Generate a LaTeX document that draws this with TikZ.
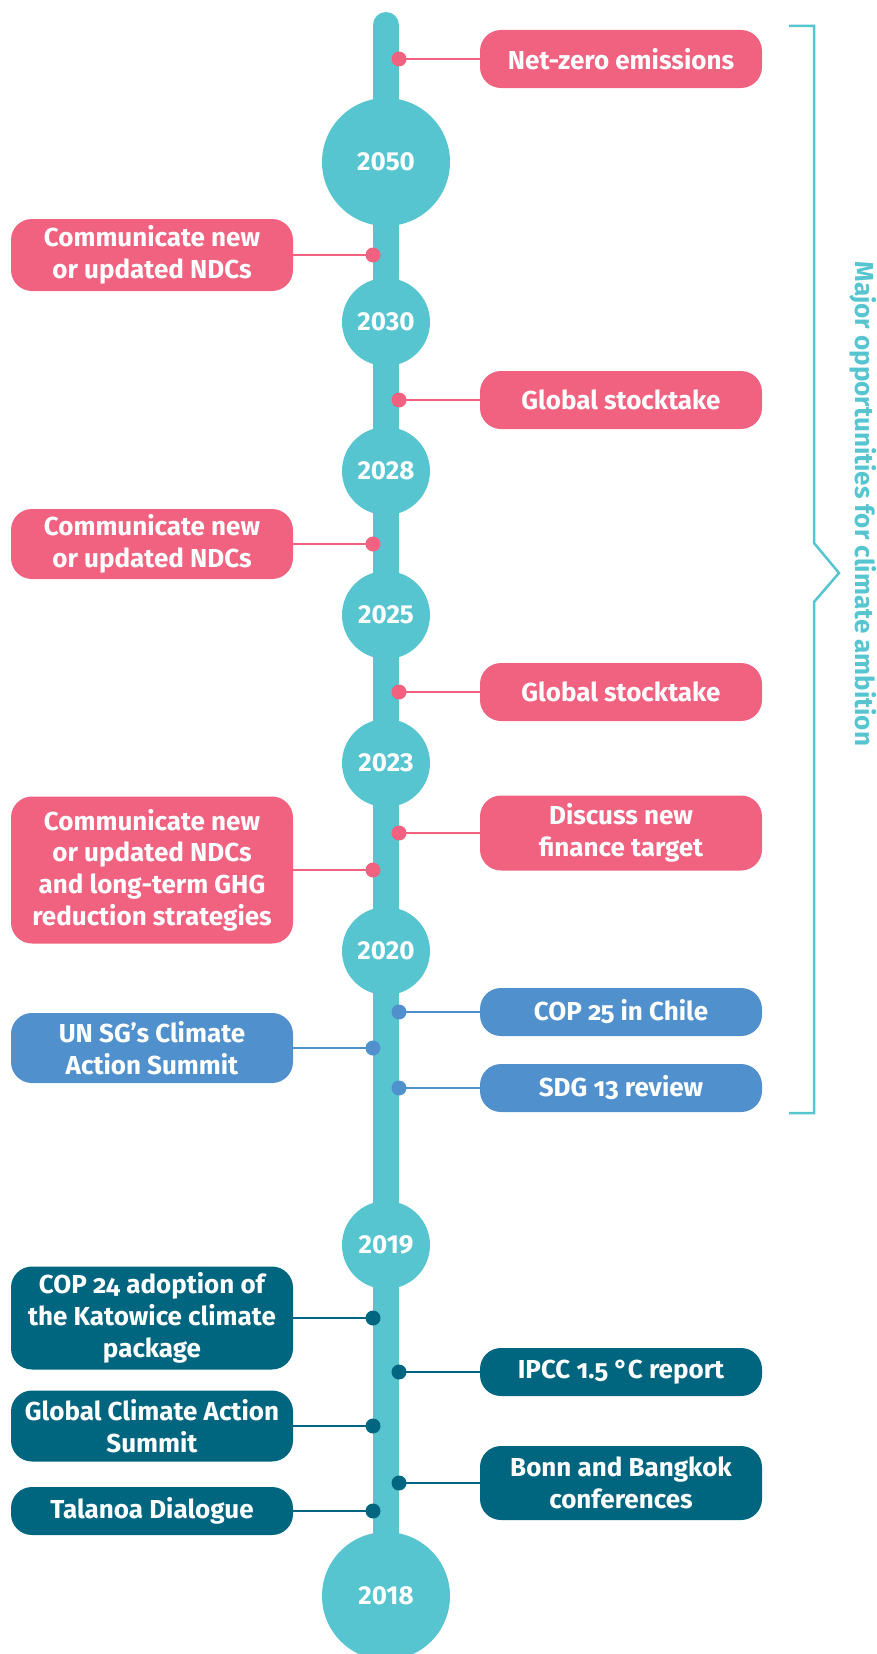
\documentclass[tikz,border=0pt]{standalone}
\usepackage{fontspec}
\setmainfont{Fira Sans}
\definecolor{tlpink}{RGB}{240,98,128}
\definecolor{tlteal}{RGB}{86,197,208}
\definecolor{tlblue}{RGB}{80,145,205}
\definecolor{tldark}{RGB}{0,102,128}
\newcommand{\osn}[1]{{\addfontfeatures{Numbers=OldStyle}#1}}
\begin{document}
\begin{tikzpicture}[x=1pt,y=-1pt,
  txt/.style={font=\fontsize{26}{31.7}\selectfont\bfseries, text=white, align=center},
  yearnode/.style={circle, fill=tlteal, inner sep=0pt, txt},
  bigyear/.style={yearnode, minimum size=128pt},
  smallyear/.style={yearnode, minimum size=88pt},
  evbox/.style={rounded corners=21pt, inner sep=0pt, minimum width=282pt, txt},
  rbox/.style={evbox},
  lbox/.style={evbox},
  evdot/.style={circle, inner sep=0pt, minimum size=15pt},
  conn/.style={line width=2pt}
]
\useasboundingbox (0,0) rectangle (877,1654);
% stem
\draw[tlteal, line width=26pt, line cap=round] (386,25) -- (386,1640);
% years
\node[bigyear] (y2050) at (386,162) {2050};
\node[smallyear] (y2030) at (386,322) {2030};
\node[smallyear] (y2028) at (386,471) {2028};
\node[smallyear] (y2025) at (386,615) {2025};
\node[smallyear] (y2023) at (386,763) {2023};
\node[smallyear] (y2020) at (386,951) {2020};
\node[smallyear] (y2019) at (386,1245) {2019};
\node[bigyear] (y2018) at (386,1596) {2018};

% right boxes
\node[rbox, fill=tlpink, minimum height=58pt] (r1) at (621,59) {Net-zero emissions};
\node[rbox, fill=tlpink, minimum height=58pt] (r2) at (621,400) {Global stocktake};
\node[rbox, fill=tlpink, minimum height=58pt] (r3) at (621,692) {Global stocktake};
\node[rbox, fill=tlpink, minimum height=75pt] (r4) at (621,833) {Discuss new\\finance target};
\node[rbox, fill=tlblue, minimum height=48pt] (r5) at (621,1012) {COP \osn{25} in Chile};
\node[rbox, fill=tlblue, minimum height=48pt] (r6) at (621,1088) {SDG \osn{13} review};
\node[rbox, fill=tldark, minimum height=48pt] (r7) at (621,1372) {IPCC \osn{1.5} °C report};
\node[rbox, fill=tldark, minimum height=74pt] (r8) at (621,1483) {Bonn and Bangkok\\conferences};

% left boxes
\node[lbox, fill=tlpink, minimum height=72pt] (l1) at (152,255) {Communicate new\\or updated NDCs};
\node[lbox, fill=tlpink, minimum height=70pt] (l2) at (152,544) {Communicate new\\or updated NDCs};
\node[lbox, fill=tlpink, minimum height=147pt] (l3) at (152,870) {Communicate new\\or updated NDCs\\and long-term GHG\\reduction strategies};
\node[lbox, fill=tlblue, minimum height=70pt] (l4) at (152,1048) {UN SG’s Climate\\Action Summit};
\node[lbox, fill=tldark, minimum height=103pt] (l5) at (152,1318) {COP \osn{24} adoption of\\the Katowice climate\\package};
\node[lbox, fill=tldark, minimum height=71pt] (l6) at (152,1426) {Global Climate Action\\Summit};
\node[lbox, fill=tldark, minimum height=48pt] (l7) at (152,1511) {Talanoa Dialogue};

% right dots and connectors
\foreach \n/\yy/\c in {1/59/tlpink, 2/400/tlpink, 3/692/tlpink, 4/833/tlpink, 5/1012/tlblue, 6/1088/tlblue, 7/1372/tldark, 8/1483/tldark}{
  \node[evdot, fill=\c] (rd\n) at (399,\yy) {};
  \draw[conn, draw=\c] (rd\n.center) -- (r\n.west |- rd\n.center);
}
\foreach \n/\yy/\c in {1/255/tlpink, 2/544/tlpink, 3/870/tlpink, 4/1048/tlblue, 5/1318/tldark, 6/1426/tldark, 7/1511/tldark}{
  \node[evdot, fill=\c] (ld\n) at (373,\yy) {};
  \draw[conn, draw=\c] (ld\n.center) -- (l\n.east |- ld\n.center);
}

% brace
\coordinate (bt) at (789,26);
\coordinate (bb) at (789,1113);
\draw[tlteal, line width=2.5pt, line join=miter] (bt) -- (814,26) -- (814,543) -- (839,573) -- (814,602) -- (814,1113) -- (bb);
\node[rotate=-90, text=tlteal, font=\fontsize{26}{30}\selectfont\bfseries] (blabel) at (863,504) {Major opportunities for climate ambition};
\end{tikzpicture}
\end{document}
